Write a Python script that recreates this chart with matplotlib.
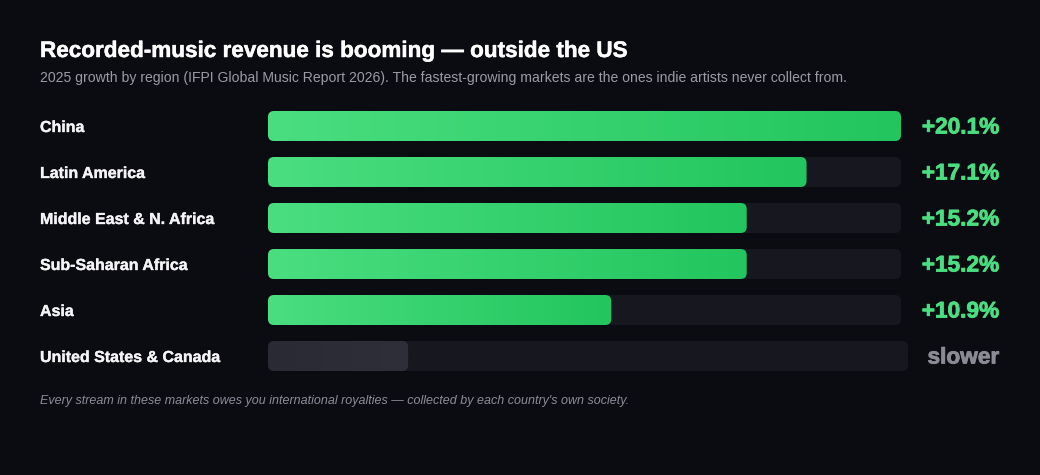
import matplotlib
matplotlib.use("Agg")
import matplotlib.pyplot as plt
import numpy as np
from matplotlib.patches import FancyBboxPatch
from matplotlib.colors import LinearSegmentedColormap
import matplotlib.transforms as mtransforms
import matplotlib.patheffects as pe

# ---- data ----
regions = ["China", "Latin America", "Middle East & N. Africa",
           "Sub-Saharan Africa", "Asia", "United States & Canada"]
growth = [20.1, 17.1, 15.2, 15.2, 10.9, None]
value_labels = ["+20.1%", "+17.1%", "+15.2%", "+15.2%", "+10.9%", "slower"]
us_bar_value = 4.45  # stub shown for the slower market (same scale)

title = "Recorded-music revenue is booming \u2014 outside the US"
subtitle = ("2025 growth by region (IFPI Global Music Report 2026). "
            "The fastest-growing markets are the ones indie artists never collect from.")
footnote = ("Every stream in these markets owes you international royalties \u2014 "
            "collected by each country's own society.")

# ---- style ----
W, H = 1040, 475
BG = "#0b0b12"
TRACK = "#17171f"
GREEN_L = "#4ade80"
GREEN_R = "#22c55e"
GREY_L = "#2a2a34"
GREY_R = "#2f2f39"
plt.rcParams["font.family"] = ["Liberation Sans", "DejaVu Sans"]

fig = plt.figure(figsize=(W / 100, H / 100), dpi=100, facecolor=BG)

def fx(px):
    return px / W

def fy(py):
    return 1 - py / H

x0_px, x1_px = 268, 901
row0_px, row_step = 126, 46
n = len(regions)
top_px = row0_px - row_step / 2
ax = fig.add_axes([fx(x0_px), fy(top_px + row_step * n), fx(x1_px) - fx(x0_px), row_step * n / H])
ax.set_facecolor("none")
xmax = max(g for g in growth if g is not None)
ax.set_xlim(0, xmax)
ax.set_ylim(n - 0.5, -0.5)
ax.axis("off")

px_per_x = (x1_px - x0_px) / xmax
mut_aspect = px_per_x / row_step
bar_h = 30 / row_step
radius = 6 / px_per_x

us_track_end = xmax + 7 / px_per_x

def rbox(x, y, w, color="none"):
    p = FancyBboxPatch((x, y - bar_h / 2), w, bar_h,
                       boxstyle=f"round,pad=0,rounding_size={radius}",
                       mutation_aspect=mut_aspect, facecolor=color,
                       edgecolor="none", clip_on=False)
    ax.add_patch(p)
    return p

green_cmap = LinearSegmentedColormap.from_list("g", [GREEN_L, GREEN_R])
grey_cmap = LinearSegmentedColormap.from_list("gr", [GREY_L, GREY_R])
grad = np.linspace(0, 1, 256).reshape(1, -1)

for i, (reg, g) in enumerate(zip(regions, growth)):
    track_w = xmax if g is not None else us_track_end
    rbox(0, i, track_w, TRACK)
    val = g if g is not None else us_bar_value
    clip = rbox(0, i, val, "none")
    im = ax.imshow(grad, cmap=green_cmap if g is not None else grey_cmap,
                   extent=(0, val, i + bar_h / 2, i - bar_h / 2),
                   aspect="auto", interpolation="bicubic", zorder=2, clip_on=True)
    im.set_clip_path(clip)

ax.set_xlim(0, xmax)
ax.set_ylim(n - 0.5, -0.5)

def bolder(color, w):
    return [pe.withStroke(linewidth=w, foreground=color)]

row_trans = mtransforms.blended_transform_factory(fig.transFigure, ax.transData)
lab_off = mtransforms.ScaledTranslation(0, -6 / 100, fig.dpi_scale_trans)
val_off = mtransforms.ScaledTranslation(0, -7.5 / 100, fig.dpi_scale_trans)
for i, (reg, lab, g) in enumerate(zip(regions, value_labels, growth)):
    fig.text(fx(40), i, reg, transform=row_trans + lab_off, color="#f4f4f6",
             fontsize=11.5, fontweight="bold", va="baseline", ha="left",
             path_effects=bolder("#f4f4f6", 0.25))
    vc = "#4ade80" if g is not None else "#8b8b96"
    fig.text(fx(999), i, lab, transform=row_trans + val_off, color=vc,
             fontsize=16.3, fontweight="bold", va="baseline", ha="right",
             path_effects=bolder(vc, 0.6))

fig.text(fx(40), fy(57), title, color="#ffffff", fontsize=16.2, fontweight="bold",
         ha="left", va="baseline", path_effects=bolder("#ffffff", 0.35))
fig.text(fx(40), fy(82), subtitle, color="#9b9ba6", fontsize=10.05,
         ha="left", va="baseline")
fig.text(fx(40), fy(404), footnote, color="#8d8d98", fontsize=9.0,
         style="italic", ha="left", va="baseline")

fig.savefig("out.png", dpi=100, facecolor=BG)
